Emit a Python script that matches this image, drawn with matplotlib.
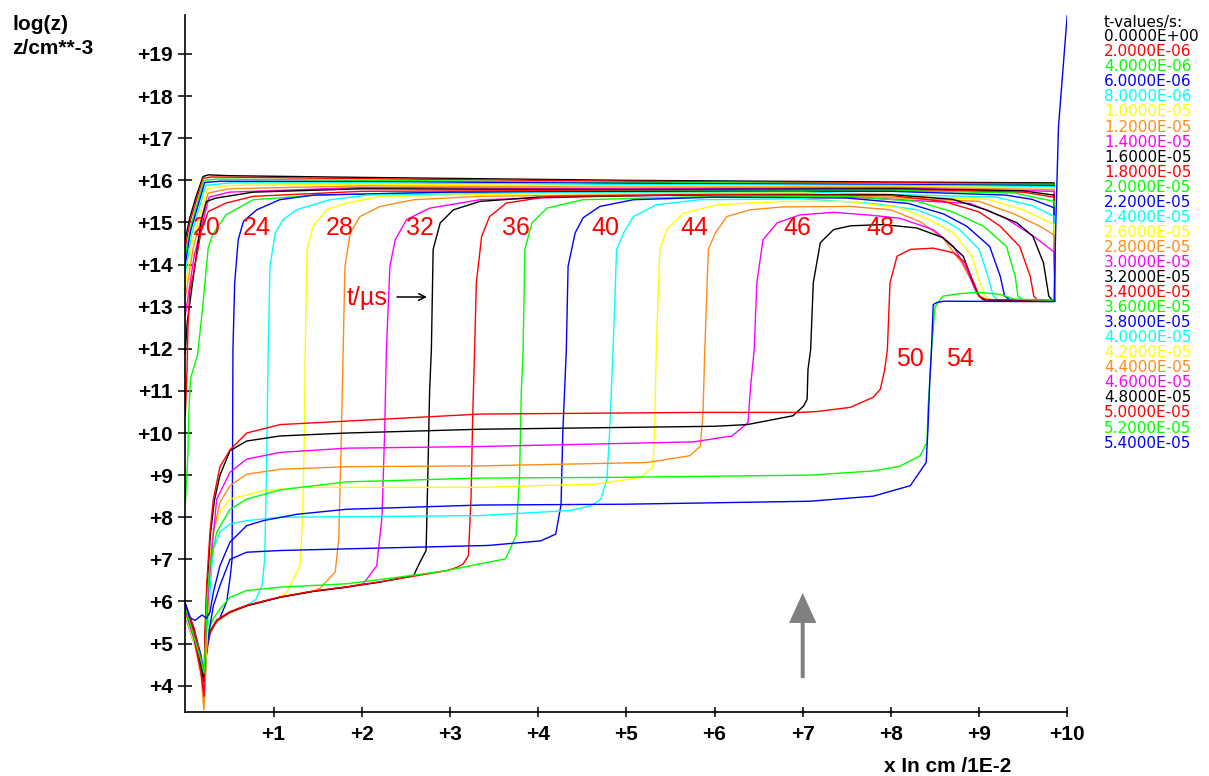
import matplotlib
matplotlib.use("Agg")
import matplotlib.pyplot as plt
from matplotlib.patches import FancyArrow

# ---------------------------------------------------------------------------
# Profiles log10(z) versus x (x in units of 1E-2 cm), one per output time.
# ---------------------------------------------------------------------------
times_us = [0, 2, 4, 6, 8, 10, 12, 14, 16, 18, 20, 22, 24, 26,
            28, 30, 32, 34, 36, 38, 40, 42, 44, 46, 48, 50, 52, 54]

palette = ["#000000", "#ff0000", "#00ff00", "#0000ff",
           "#00ffff", "#ffff00", "#ff8c1a", "#ff00ff"]

c00 = [(0.0, 14.6), (0.05, 15.1), (0.12, 15.6), (0.2, 16.09), (0.26, 16.13), (0.5, 16.11),
       (2.0, 16.07), (5.0, 16.0), (8.0, 15.96), (9.85, 15.94), (9.86, 13.14)]
c02 = [(0.0, 14.4), (0.05, 15.0), (0.2, 16.05), (0.3, 16.08), (2.0, 16.04), (5.0, 15.98),
       (8.0, 15.94), (9.85, 15.92), (9.86, 13.14)]
c04 = [(0.0, 14.2), (0.06, 14.9), (0.21, 16.0), (0.35, 16.03), (2.0, 16.0), (5.0, 15.95),
       (8.0, 15.92), (9.85, 15.9), (9.86, 13.14)]
c06 = [(0.0, 14.0), (0.06, 14.8), (0.22, 15.95), (0.4, 15.98), (2.0, 15.97), (5.0, 15.93),
       (8.0, 15.9), (9.85, 15.88), (9.86, 13.14)]
c08 = [(0.0, 13.8), (0.07, 14.7), (0.23, 15.88), (0.5, 15.94), (2.0, 15.94), (5.0, 15.9),
       (8.0, 15.88), (9.85, 15.85), (9.86, 13.14)]
c10 = [(0.0, 13.5), (0.08, 14.55), (0.25, 15.8), (0.5, 15.88), (2.0, 15.91), (5.0, 15.87),
       (8.0, 15.86), (9.85, 15.82), (9.86, 13.14)]
c12 = [(0.0, 13.2), (0.09, 14.4), (0.26, 15.7), (0.5, 15.8), (2.0, 15.87), (5.0, 15.84),
       (8.0, 15.84), (9.85, 15.78), (9.86, 13.14)]
c14 = [(0.0, 12.8), (0.1, 14.2), (0.27, 15.6), (0.5, 15.72), (2.0, 15.83), (5.0, 15.8),
       (8.0, 15.82), (9.85, 15.74), (9.86, 13.14)]
c16 = [(0.0, 11.9), (0.02, 12.6), (0.11, 14.0), (0.18, 15.03), (0.24, 15.5), (0.35, 15.58),
       (0.77, 15.72), (2.0, 15.8), (5.0, 15.78), (8.0, 15.8), (9.5, 15.75), (9.85, 15.65),
       (9.86, 13.14)]
c18 = [(0.0, 10.4), (0.02, 11.5), (0.03, 12.5), (0.05, 13.37), (0.09, 13.76), (0.14, 14.32),
       (0.18, 14.79), (0.26, 15.26), (0.46, 15.46), (0.77, 15.62), (2.0, 15.74), (5.0, 15.76),
       (8.0, 15.78), (9.5, 15.72), (9.85, 15.6), (9.86, 13.14)]
c20 = [(0.0, 8.3), (0.03, 9.5), (0.04, 10.5), (0.06, 11.3), (0.14, 11.87), (0.2, 13.05),
       (0.26, 14.4), (0.31, 14.71), (0.46, 15.18), (0.77, 15.54), (1.5, 15.65), (3.0, 15.72),
       (6.0, 15.75), (8.0, 15.76), (9.4, 15.7), (9.85, 15.5), (9.86, 13.14)]
c22 = [(0.0, 5.95), (0.1, 5.35), (0.18, 4.7), (0.21, 4.3), (0.25, 5.0), (0.3, 5.35),
       (0.39, 5.6), (0.47, 6.0), (0.51, 6.6), (0.53, 7.0), (0.535, 9.0), (0.54, 11.98),
       (0.56, 13.57), (0.6, 14.59), (0.66, 15.03), (0.81, 15.3), (1.07, 15.54), (1.45, 15.65),
       (3.0, 15.72), (6.0, 15.74), (8.0, 15.74), (9.3, 15.65), (9.6, 15.55), (9.85, 15.35),
       (9.86, 13.14)]
c24 = [(0.0, 5.9), (0.1, 5.3), (0.18, 4.6), (0.21, 4.0), (0.242, 4.88), (0.28, 5.28),
       (0.356, 5.55), (0.507, 5.75), (0.696, 5.9), (0.8, 6.05), (0.87, 6.38), (0.9, 7.0),
       (0.92, 9.0), (0.94, 11.98), (0.96, 13.96), (1.02, 14.75), (1.11, 15.07), (1.26, 15.3),
       (1.64, 15.54), (2.07, 15.65), (4.0, 15.7), (7.0, 15.72), (9.2, 15.6), (9.6, 15.4),
       (9.85, 15.15), (9.86, 13.14)]
c26 = [(0.0, 5.85), (0.1, 5.25), (0.18, 4.5), (0.21, 3.6), (0.242, 4.8), (0.28, 5.25),
       (0.356, 5.53), (0.507, 5.74), (0.696, 5.9), (1.074, 6.1), (1.15, 6.22), (1.3, 6.85),
       (1.33, 8.0), (1.35, 10.0), (1.36, 11.98), (1.38, 14.36), (1.45, 14.91), (1.6, 15.3),
       (1.83, 15.46), (2.21, 15.62), (4.0, 15.68), (7.0, 15.7), (9.1, 15.55), (9.5, 15.3),
       (9.85, 14.95), (9.86, 13.14)]
c28 = [(0.0, 5.8), (0.1, 5.2), (0.18, 4.4), (0.21, 3.42), (0.242, 4.75), (0.28, 5.22),
       (0.356, 5.52), (0.507, 5.73), (0.696, 5.89), (1.074, 6.1), (1.45, 6.24), (1.53, 6.32),
       (1.7, 6.7), (1.74, 7.5), (1.77, 10.0), (1.79, 11.98), (1.81, 13.96), (1.87, 14.75),
       (1.98, 15.14), (2.21, 15.38), (2.59, 15.54), (3.34, 15.62), (5.0, 15.66), (7.0, 15.68),
       (9.0, 15.5), (9.4, 15.2), (9.7, 14.9), (9.85, 14.7), (9.86, 13.14)]
c30 = [(0.0, 5.85), (0.1, 5.3), (0.18, 4.5), (0.21, 3.7), (0.242, 4.85), (0.28, 5.27),
       (0.356, 5.55), (0.507, 5.75), (0.696, 5.9), (1.074, 6.1), (1.45, 6.24), (1.83, 6.34),
       (2.02, 6.42), (2.17, 6.85), (2.23, 8.0), (2.26, 10.0), (2.28, 11.98), (2.32, 13.96),
       (2.38, 14.59), (2.51, 15.07), (2.77, 15.34), (3.34, 15.54), (5.0, 15.64), (7.0, 15.66),
       (8.9, 15.45), (9.3, 15.1), (9.6, 14.7), (9.85, 14.3), (9.86, 13.14)]
c32 = [(0.0, 5.9), (0.1, 5.3), (0.18, 4.6), (0.21, 3.9), (0.242, 4.88), (0.28, 5.28),
       (0.356, 5.55), (0.507, 5.75), (0.696, 5.9), (1.074, 6.1), (1.45, 6.24), (1.83, 6.34),
       (2.21, 6.46), (2.43, 6.55), (2.59, 6.62), (2.65, 6.89), (2.73, 7.21), (2.75, 9.0),
       (2.77, 11.0), (2.79, 11.98), (2.81, 14.36), (2.89, 14.99), (3.04, 15.3), (3.34, 15.5),
       (4.0, 15.6), (6.0, 15.66), (8.0, 15.66), (8.7, 15.55), (9.08, 15.3), (9.43, 14.99),
       (9.61, 14.67), (9.73, 14.04), (9.79, 13.25), (9.83, 13.15), (9.86, 13.14)]
c34 = [(0.0, 5.95), (0.1, 5.35), (0.18, 4.6), (0.21, 4.0), (0.242, 4.9), (0.28, 5.3),
       (0.356, 5.56), (0.507, 5.76), (0.696, 5.91), (1.074, 6.11), (1.45, 6.25), (1.83, 6.35),
       (2.21, 6.47), (2.59, 6.6), (2.96, 6.73), (3.08, 6.81), (3.15, 6.89), (3.21, 7.09),
       (3.24, 8.5), (3.26, 10.5), (3.28, 11.98), (3.3, 13.57), (3.36, 14.67), (3.45, 15.14),
       (3.64, 15.46), (4.13, 15.62), (6.0, 15.66), (8.0, 15.64), (8.6, 15.5), (9.0, 15.25),
       (9.24, 14.91), (9.46, 14.43), (9.58, 13.72), (9.62, 13.25), (9.66, 13.16), (9.86, 13.14)]
c36 = [(0.0, 5.8), (0.1, 5.15), (0.18, 4.5), (0.21, 4.1), (0.26, 5.3), (0.318, 5.6),
       (0.393, 5.82), (0.507, 6.1), (0.696, 6.26), (1.074, 6.34), (1.83, 6.42), (2.5, 6.6),
       (2.95, 6.73), (3.43, 6.93), (3.63, 7.01), (3.75, 7.56), (3.79, 9.0), (3.81, 11.0),
       (3.83, 11.98), (3.85, 14.36), (3.93, 14.99), (4.1, 15.34), (4.51, 15.54), (6.0, 15.62),
       (7.5, 15.62), (8.3, 15.5), (8.7, 15.25), (9.05, 14.91), (9.31, 14.43), (9.41, 13.72),
       (9.44, 13.25), (9.5, 13.16), (9.86, 13.14)]
c38 = [(0.0, 5.65), (0.1, 5.0), (0.18, 4.5), (0.21, 4.2), (0.27, 5.3), (0.318, 5.9),
       (0.393, 6.38), (0.507, 7.0), (0.696, 7.17), (1.074, 7.21), (1.83, 7.25), (3.43, 7.33),
       (4.03, 7.44), (4.2, 7.6), (4.26, 8.3), (4.28, 10.0), (4.32, 11.98), (4.34, 13.96),
       (4.42, 14.75), (4.51, 15.11), (4.7, 15.38), (5.08, 15.54), (6.0, 15.6), (7.5, 15.58),
       (8.2, 15.45), (8.6, 15.2), (8.86, 14.91), (9.12, 14.43), (9.24, 13.72), (9.29, 13.25),
       (9.35, 13.16), (9.86, 13.14)]
c40 = [(0.0, 5.7), (0.1, 5.0), (0.18, 4.4), (0.21, 3.95), (0.26, 5.5), (0.3, 6.85),
       (0.318, 7.25), (0.393, 7.65), (0.507, 7.84), (0.696, 7.92), (1.074, 8.0), (3.34, 8.04),
       (4.36, 8.16), (4.6, 8.27), (4.71, 8.43), (4.78, 8.9), (4.81, 10.0), (4.85, 11.98),
       (4.89, 14.36), (4.97, 14.75), (5.08, 15.14), (5.34, 15.42), (5.84, 15.54), (7.0, 15.56),
       (7.8, 15.45), (8.3, 15.3), (8.6, 15.05), (8.78, 14.83), (9.0, 14.36), (9.1, 13.72),
       (9.16, 13.25), (9.22, 13.16), (9.86, 13.14)]
c42 = [(0.0, 5.7), (0.1, 5.0), (0.18, 4.3), (0.215, 3.85), (0.25, 5.3), (0.28, 7.09),
       (0.318, 7.65), (0.393, 8.12), (0.507, 8.43), (0.88, 8.63), (1.3, 8.71), (3.34, 8.71),
       (4.68, 8.79), (5.16, 8.95), (5.3, 9.18), (5.32, 10.0), (5.34, 11.98), (5.38, 14.36),
       (5.46, 14.83), (5.65, 15.22), (6.03, 15.42), (6.78, 15.5), (7.5, 15.5), (8.1, 15.35),
       (8.45, 15.05), (8.71, 14.75), (8.92, 14.2), (9.01, 13.57), (9.07, 13.25), (9.12, 13.16),
       (9.86, 13.14)]
c44 = [(0.0, 5.75), (0.1, 5.1), (0.18, 4.2), (0.212, 3.5), (0.235, 5.0), (0.28, 6.85),
       (0.318, 7.65), (0.393, 8.35), (0.507, 8.75), (0.696, 9.02), (1.074, 9.14), (1.83, 9.2),
       (3.34, 9.22), (5.23, 9.3), (5.72, 9.46), (5.84, 9.69), (5.87, 10.5), (5.89, 11.98),
       (5.93, 14.36), (6.01, 14.75), (6.14, 15.14), (6.4, 15.3), (6.78, 15.37), (7.54, 15.38),
       (8.0, 15.3), (8.35, 15.0), (8.6, 14.6), (8.8, 14.05), (8.93, 13.55), (9.0, 13.27),
       (9.05, 13.17), (9.86, 13.14)]
c46 = [(0.0, 5.8), (0.1, 5.1), (0.18, 4.3), (0.215, 3.8), (0.23, 5.0), (0.26, 6.2),
       (0.3, 7.2), (0.356, 8.43), (0.507, 9.07), (0.696, 9.38), (1.074, 9.54), (1.83, 9.64),
       (3.34, 9.68), (5.76, 9.79), (6.2, 9.93), (6.38, 10.25), (6.41, 11.12), (6.45, 11.98),
       (6.48, 13.57), (6.55, 14.59), (6.71, 14.99), (6.97, 15.18), (7.35, 15.24), (7.73, 15.18),
       (8.1, 15.1), (8.48, 14.83), (8.71, 14.43), (8.86, 13.88), (8.97, 13.33), (9.04, 13.17),
       (9.86, 13.14)]
c48 = [(0.0, 5.85), (0.1, 5.15), (0.18, 4.4), (0.212, 4.1), (0.225, 5.2), (0.245, 6.3),
       (0.285, 7.6), (0.33, 8.4), (0.393, 9.0), (0.507, 9.58), (0.696, 9.81), (1.074, 9.93),
       (1.83, 10.0), (3.34, 10.09), (6.0, 10.16), (6.37, 10.2), (6.89, 10.41), (7.01, 10.64),
       (7.05, 10.8), (7.06, 11.51), (7.09, 11.98), (7.12, 13.57), (7.2, 14.52), (7.35, 14.83),
       (7.54, 14.92), (7.91, 14.95), (8.29, 14.87), (8.59, 14.64), (8.82, 14.2), (8.92, 13.64),
       (9.0, 13.25), (9.06, 13.16), (9.86, 13.14)]
c50 = [(0.0, 5.9), (0.1, 5.2), (0.18, 4.3), (0.212, 3.75), (0.223, 5.28), (0.242, 6.37),
       (0.28, 7.65), (0.318, 8.43), (0.393, 9.2), (0.507, 9.6), (0.696, 10.0), (1.074, 10.2),
       (3.34, 10.45), (5.83, 10.49), (6.97, 10.49), (7.16, 10.51), (7.54, 10.61), (7.8, 10.85),
       (7.88, 11.04), (7.93, 11.51), (7.96, 11.98), (7.99, 13.57), (8.07, 14.2), (8.22, 14.36),
       (8.48, 14.39), (8.71, 14.28), (8.84, 14.05), (8.94, 13.57), (9.0, 13.25), (9.08, 13.17),
       (9.86, 13.15)]
c52 = [(0.0, 5.85), (0.1, 5.15), (0.18, 4.6), (0.212, 4.3), (0.235, 5.2), (0.245, 6.06),
       (0.28, 6.85), (0.356, 7.65), (0.507, 8.19), (0.696, 8.43), (1.074, 8.65), (1.83, 8.84),
       (3.34, 8.93), (5.0, 8.95), (7.08, 9.0), (7.8, 9.1), (8.1, 9.21), (8.33, 9.46),
       (8.41, 9.78), (8.42, 10.56), (8.44, 11.2), (8.46, 11.98), (8.48, 12.46), (8.5, 13.0),
       (8.59, 13.25), (8.78, 13.31), (9.0, 13.34), (9.24, 13.29), (9.4, 13.18), (9.86, 13.15)]
c54 = [(0.0, 5.95), (0.05, 5.62), (0.11, 5.55), (0.19, 5.68), (0.24, 5.6), (0.28, 5.75),
       (0.318, 6.22), (0.393, 6.85), (0.507, 7.41), (0.696, 7.8), (0.884, 7.92), (1.263, 8.07),
       (1.83, 8.19), (3.34, 8.29), (5.0, 8.31), (7.08, 8.38), (7.8, 8.5), (8.22, 8.75),
       (8.4, 9.3), (8.42, 10.09), (8.44, 11.2), (8.46, 11.98), (8.48, 13.05), (8.52, 13.1),
       (8.6, 13.13), (9.85, 13.12), (9.87, 15.0), (9.9, 17.27), (10.0, 19.95)]

profiles = [c00, c02, c04, c06, c08, c10, c12, c14, c16, c18, c20, c22, c24, c26,
            c28, c30, c32, c34, c36, c38, c40, c42, c44, c46, c48, c50, c52, c54]

x_ticks = [1, 2, 3, 4, 5, 6, 7, 8, 9, 10]
y_ticks = list(range(4, 20))

# time labels written next to the fronts (value in microseconds)
front_labels = ["20", "24", "28", "32", "36", "40", "44", "46", "48", "50", "54"]
front_label_xy = [(0.24, 14.88), (0.81, 14.88), (1.75, 14.88), (2.66, 14.88),
                  (3.75, 14.88), (4.76, 14.88), (5.77, 14.88), (6.94, 14.88),
                  (7.88, 14.88), (8.22, 11.75), (8.78, 11.75)]

# ---------------------------------------------------------------------------
W, H = 1209, 776
fig = plt.figure(figsize=(W / 100, H / 100), dpi=100)
fig.patch.set_facecolor("white")

x0_px, x10_px = 185.3, 1067.3
y_bot_px, y_top_px = 711.7, 15.0
ax = fig.add_axes([x0_px / W, (H - y_bot_px) / H,
                   (x10_px - x0_px) / W, (y_bot_px - y_top_px) / H])
ax.set_xlim(0, 10)
ax.set_ylim(3.383, 19.926)

for i, prof in enumerate(profiles):
    xs = [p[0] for p in prof]
    ys = [p[1] for p in prof]
    ax.plot(xs, ys, color=palette[i % len(palette)], lw=1.0, solid_joinstyle="round")

for sp in ("top", "right"):
    ax.spines[sp].set_visible(False)
for sp in ("left", "bottom"):
    ax.spines[sp].set_linewidth(1.2)
    ax.spines[sp].set_color("black")

tick_font = dict(family="Liberation Sans", weight="bold", size=15)
ax.set_xticks(x_ticks)
ax.set_xticklabels([f"+{v}" for v in x_ticks], **tick_font)
ax.set_yticks(y_ticks)
ax.set_yticklabels([f"+{v}" for v in y_ticks], **tick_font)
ax.tick_params(axis="y", direction="inout", length=10, width=1.1, pad=4)
ax.tick_params(axis="x", direction="inout", length=7, width=1.1, pad=6)

label_font = dict(family="Liberation Sans", weight="bold", size=15)
fig.text(12 / W, 1 - 25 / H, "log(z)", ha="left", va="center", **label_font)
fig.text(12 / W, 1 - 48 / H, "z/cm**-3", ha="left", va="center", **label_font)
fig.text(948 / W, 1 - 766 / H, "x In cm /1E-2", ha="center", va="center", **label_font)

# time annotations
for txt, (tx, ty) in zip(front_labels, front_label_xy):
    ax.text(tx, ty, txt, color="#ff0000", fontsize=18, family="Liberation Sans",
            ha="center", va="center")
ax.text(2.06, 13.2, "t/\u00b5s", color="#ff0000", fontsize=18, family="Liberation Sans",
        ha="center", va="center")
ax.annotate("", xy=(2.74, 13.23), xytext=(2.4, 13.23),
            arrowprops=dict(arrowstyle="->", color="black", lw=1.1,
                            shrinkA=0, shrinkB=0, mutation_scale=12))

# grey marker arrow
ax.add_patch(FancyArrow(7.0, 4.18, 0, 2.02, width=0.045, head_width=0.31,
                        head_length=0.71, length_includes_head=True,
                        color="#808080", lw=0))

# time list on the right
legend_x = 1104 / W
fig.text(legend_x, 1 - 23 / H, "t-values/s:", color="black", fontsize=11,
         family="DejaVu Sans", ha="left", va="center")
for i, t in enumerate(times_us):
    fig.text(legend_x, 1 - (36.7 + 15.05 * i) / H, f"{t * 1e-6:.4E}",
             color=palette[i % len(palette)], fontsize=11, family="DejaVu Sans",
             ha="left", va="center")

fig.savefig("out.png", dpi=100, facecolor="white")
